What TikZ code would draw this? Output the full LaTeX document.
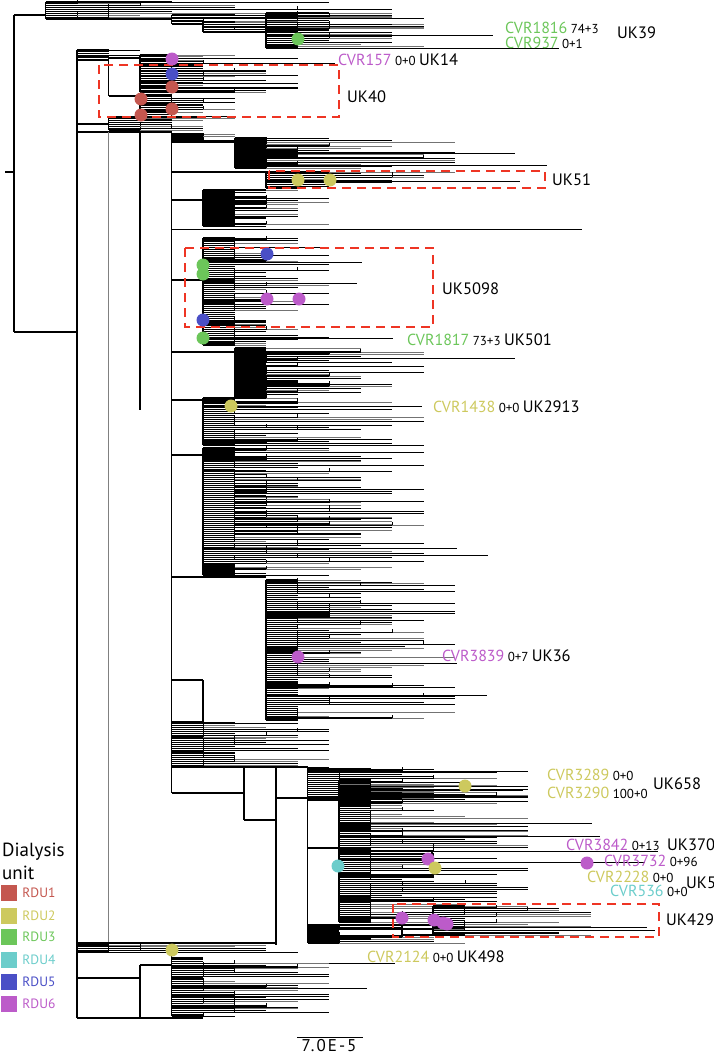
\documentclass[tikz,border=0pt]{standalone}
\usepackage{fontspec}
\setmainfont{PT Sans}
\usetikzlibrary{positioning}

\definecolor{rduone}{HTML}{C4574F}
\definecolor{rdutwo}{HTML}{CDC95E}
\definecolor{rduthree}{HTML}{6CC65A}
\definecolor{rdufour}{HTML}{6CCDCB}
\definecolor{rdufive}{HTML}{4A4FC6}
\definecolor{rdusix}{HTML}{BC5BC9}
\definecolor{boxred}{HTML}{EE3524}

% #1 x of node, #2 top y, #3 bottom y, #4 gaps, #5 min steps, #6 max steps, #7 seed
\newcommand\tipset[7]{%
  \pgfmathsetseed{#7}
  \draw[branch] (#1,#2) -- (#1,#3);
  \foreach \k in {0,...,#4}{
    \pgfmathsetmacro\yy{#2+(#3-#2)*\k/#4}
    \pgfmathtruncatemacro\mm{#5+floor(rnd*(#6-#5+1))}
    \pgfmathtruncatemacro\jj{1+floor(rnd*rnd*\mm)}
    \pgfmathtruncatemacro\gg{rnd<0.4 ? 55 : 100}
    \pgfmathsetmacro\xe{#1+31.5*\mm}
    \pgfmathsetmacro\xj{#1+31.5*\jj}
    \draw[tip, line width=1.2pt] (#1,\yy) -- (\xj,\yy);
    \draw[tip, black!\gg] (\xj,\yy) -- (\xe,\yy);
    \ifnum\jj<\mm \ifnum\k>0
      \draw[tip] (\xj,\yy) -- ++(0,-3.5);
    \fi\fi
  }%
}

\begin{document}
\begin{tikzpicture}[x=1pt, y=-1pt,
    branch/.style = {line width=1.2pt},
       tip/.style = {line width=0.8pt},
   leafdot/.style = {circle, inner sep=0pt, minimum size=13pt, fill=#1},
   cluster/.style = {draw=boxred, line width=2.2pt, dash pattern=on 9pt off 6pt},
       cvr/.style = {anchor=west, inner sep=0pt, text=#1, font=\fontsize{16}{18}\selectfont},
       snp/.style = {inner sep=0pt, font=\fontsize{13}{15}\selectfont},
        uk/.style = {anchor=west, inner sep=0pt, font=\fontsize{16.5}{18}\selectfont},
       key/.style = {minimum size=16pt, inner sep=0pt, fill=#1},
                    ]
\useasboundingbox (0,0) rectangle (714,1055);

% root and top clade
\draw[branch] (5,172) -- (14,172);
\draw[branch] (14,15) -- (14,332);
\draw[branch] (14,15) -- (45.5,15);
\tipset{45.5}{2}{19}{9}{3}{12}{11}
\draw[branch] (45.5,19) -- (171.5,19);
\tipset{171.5}{15}{24}{3}{4}{8}{12}
\draw[branch] (171.5,24) -- (203,24);
\tipset{203}{22}{32}{4}{3}{7}{13}
\draw[branch] (203,32) -- (266,32);
\tipset{266}{13}{48}{18}{2}{5}{14}
\draw[tip] (266,35) -- (493,35);
\draw[tip] (266,48) -- (559,48);

% main clade, UK14 and UK40
\draw[branch] (14,332) -- (77,332);
\draw[branch] (77,50) -- (77,1018);
\tipset{77}{50}{57}{4}{1}{2}{21}
\draw[branch] (77,60) -- (108.5,60);
\draw[branch] (108.5,58) -- (108.5,96);
\draw[branch] (108.5,58) -- (140,58);
\tipset{140}{55}{92}{22}{2}{5}{22}
\draw[tip] (140,63) -- (335,63);
\draw[branch] (108.5,96) -- (140,96);
\tipset{140}{95}{120}{14}{1}{3}{23}
\draw[branch] (77,124) -- (108.5,124);
\tipset{108.5}{117}{130}{7}{2}{3}{24}

% big clade
\draw[branch] (77,132) -- (171.5,132);
\draw[line width=1.5pt, black!50] (108.5,132) -- (108.5,943);
\draw[branch] (140,132) -- (140,410);
\draw[branch] (171.5,132) -- (171.5,793);
% UK51
\tipset{171.5}{134}{140}{3}{1}{3}{31}
\draw[branch] (171.5,142) -- (234.5,142);
\tipset{234.5}{138}{168}{15}{2}{7}{32}
\draw[tip] (234.5,153) -- (515,153);
\draw[tip] (234.5,165) -- (547,165);
\draw[branch] (171.5,172) -- (266,172);
\tipset{266}{172}{188}{9}{1}{6}{33}
\draw[tip] (266,181) -- (520,181);
\draw[branch] (171.5,200) -- (203,200);
\tipset{203}{190}{226}{18}{1}{4}{34}
\draw[tip] (171.5,229) -- (582,229);
% UK5098
\draw[branch] (171.5,280) -- (203,280);
\tipset{203}{238}{345}{56}{1}{4}{41}
\draw[tip] (203,262) -- (362,262);
\draw[tip] (203,283) -- (357,283);
\draw[tip] (203,338) -- (393,338);
% UK2913
\draw[branch] (171.5,352) -- (234.5,352);
\tipset{234.5}{348}{398}{25}{1}{6}{51}
\draw[tip] (234.5,358) -- (515,358);
\draw[branch] (171.5,400) -- (203,400);
\tipset{203}{398}{445}{24}{1}{7}{52}
\draw[tip] (203,406) -- (422,406);
% middle
\draw[branch] (171.5,455) -- (203,455);
\tipset{203}{448}{575}{64}{1}{7}{61}
\draw[branch] (203,470) -- (234.5,470);
\tipset{234.5}{471}{534}{20}{1}{5}{62}
\draw[tip] (203,555) -- (488,555);
\draw[tip] (203,548) -- (457,548);
% UK36
\draw[branch] (171.5,577) -- (266,577);
\tipset{266}{580}{720}{72}{1}{6}{71}
\draw[tip] (266,695) -- (487,695);
\draw[tip] (266,663) -- (457,663);
\draw[tip] (266,646) -- (405,646);
\draw[branch] (171.5,680) -- (203,680);
\draw[branch] (203,680) -- (203,722);
\tipset{171.5}{722}{767}{24}{2}{5}{72}

% lower clade: UK658, UK370, UK5, UK429
\draw[branch] (171.5,767) -- (307.5,767);
\draw[branch] (171.5,793) -- (244,793);
\draw[branch] (244,767) -- (244,820);
\draw[branch] (244,820) -- (276,820);
\draw[branch] (276,767) -- (276,945);
\draw[branch] (276,798) -- (307.5,798);
\draw[branch] (307.5,767) -- (307.5,943);
\tipset{307.5}{769}{800}{16}{2}{7}{81}
\draw[tip] (307.5,786) -- (528,786);
\draw[tip] (307.5,790) -- (523,790);
\draw[branch] (307.5,848) -- (339,848);
\tipset{339}{780}{922}{74}{1}{6}{82}
\draw[tip] (339,823) -- (592,823);
\draw[tip] (339,836) -- (600,836);
\draw[branch] (339,859) -- (432,859);
\draw[branch] (432,851) -- (432,866);
\draw[tip] (432,851) -- (658,851);
\draw[tip] (432,862) -- (645,862);
\tipset{307.5}{925}{943}{9}{1}{5}{83}
\draw[branch] (339,918) -- (402,918);
\draw[branch] (402,912) -- (402,935);
\draw[branch] (402,935) -- (433,935);
\tipset{433}{906}{935}{14}{1}{6}{84}
\draw[tip] (433,930) -- (655,930);
\draw[tip] (433,927) -- (647,927);
\draw[tip] (402,912) -- (560,912);

% UK498 clade
\draw[branch] (77,943) -- (276,943);
\tipset{77}{945}{952}{4}{5}{7}{91}
\draw[branch] (171.5,950) -- (171.5,965);
\draw[tip] (171.5,963) -- (395,963);
\draw[branch] (77,978) -- (140,978);
\draw[branch] (140,965) -- (140,1018);
\draw[branch] (140,965) -- (171.5,965);
\tipset{171.5}{958}{1016}{32}{1}{5}{92}
\draw[tip] (171.5,988) -- (367,988);
\draw[branch] (77,1018) -- (203,1018);

% clusters
\draw[cluster] (99,65) rectangle (339,117);
\draw[cluster] (269,171) rectangle (545,188);
\draw[cluster] (185,248) rectangle (433,327);
\draw[cluster] (393,904) rectangle (659,937);

% sampled patients
\node[leafdot=rduthree] (d39) at (298,39) {};
\node[leafdot=rdusix] (d14) at (172,59) {};
\node[leafdot=rdufive] (d40a) at (172,74) {};
\node[leafdot=rduone] (d40b) at (172,87) {};
\node[leafdot=rduone] (d40c) at (141,99) {};
\node[leafdot=rduone] (d40d) at (172,109) {};
\node[leafdot=rduone] (d40e) at (141,115) {};
\node[leafdot=rdutwo] (d51a) at (298,180) {};
\node[leafdot=rdutwo] (d51b) at (330,180) {};
\node[leafdot=rdufive] (d5098a) at (267,254) {};
\node[leafdot=rduthree] (d5098b) at (203,265) {};
\node[leafdot=rduthree] (d5098c) at (203,274) {};
\node[leafdot=rdusix] (d5098d) at (267,299) {};
\node[leafdot=rdusix] (d5098e) at (299,299) {};
\node[leafdot=rdufive] (d5098f) at (203,320) {};
\node[leafdot=rduthree] (d501) at (203,338) {};
\node[leafdot=rdutwo] (d2913) at (231,406) {};
\node[leafdot=rdusix] (d36) at (298,657) {};
\node[leafdot=rdutwo] (d658) at (465,786) {};
\node[leafdot=rdusix] (d370) at (428,859) {};
\node[leafdot=rdutwo] (d5) at (435,868) {};
\node[leafdot=rdusix] (d3732) at (587,863) {};
\node[leafdot=rdufour] (d536) at (338,866) {};
\node[leafdot=rdusix] (d429a) at (402,918) {};
\node[leafdot=rdusix] (d429b) at (434,920) {};
\node[leafdot=rdusix] (d429c) at (443,923) {};
\node[leafdot=rdusix] (d429d) at (447,924) {};
\node[leafdot=rdutwo] (d498) at (172,950) {};

% labels
\node[cvr=rduthree] (cvr1816) at (505,28) {CVR1816};
\node[snp, base right=3pt of cvr1816] (s1816) {74+3};
\node[cvr=rduthree] (cvr937) at (505,43) {CVR937};
\node[snp, base right=3pt of cvr937] (s937) {0+1};
\node[uk] (uk39) at (617,33) {UK39};
\node[cvr=rdusix] (cvr157) at (338,60) {CVR157};
\node[snp, base right=3pt of cvr157] (s157) {0+0};
\node[uk, base right=3pt of s157] (uk14) {UK14};
\node[uk] (uk40) at (347,97) {UK40};
\node[uk] (uk51) at (552,180) {UK51};
\node[uk] (uk5098) at (442,289) {UK5098};
\node[cvr=rduthree] (cvr1817) at (407,340) {CVR1817};
\node[snp, base right=3pt of cvr1817] (s1817) {73+3};
\node[uk, base right=3pt of s1817] (uk501) {UK501};
\node[cvr=rdutwo] (cvr1438) at (433,407) {CVR1438};
\node[snp, base right=3pt of cvr1438] (s1438) {0+0};
\node[uk, base right=3pt of s1438] (uk2913) {UK2913};
\node[cvr=rdusix] (cvr3839) at (442,656) {CVR3839};
\node[snp, base right=3pt of cvr3839] (s3839) {0+7};
\node[uk, base right=3pt of s3839] (uk36) {UK36};
\node[cvr=rdutwo] (cvr3289) at (547,775) {CVR3289};
\node[snp, base right=3pt of cvr3289] (s3289) {0+0};
\node[cvr=rdutwo] (cvr3290) at (547,793) {CVR3290};
\node[snp, base right=3pt of cvr3290] (s3290) {100+0};
\node[uk] (uk658) at (653,784) {UK658};
\node[cvr=rdusix] (cvr3842) at (566,845) {CVR3842};
\node[snp, base right=3pt of cvr3842] (s3842) {0+13};
\node[uk] (uk370) at (667,845) {UK370};
\node[cvr=rdusix] (cvr3732) at (604,861) {CVR3732};
\node[snp, base right=3pt of cvr3732] (s3732) {0+96};
\node[cvr=rdutwo] (cvr2228) at (587,877) {CVR2228};
\node[snp, base right=3pt of cvr2228] (s2228) {0+0};
\node[uk] (uk5) at (686,883) {UK5};
\node[cvr=rdufour] (cvr536) at (610,891) {CVR536};
\node[snp, base right=3pt of cvr536] (s536) {0+0};
\node[uk] (uk429) at (666,920) {UK429};
\node[cvr=rdutwo] (cvr2124) at (367,957) {CVR2124};
\node[snp, base right=3pt of cvr2124] (s2124) {0+0};
\node[uk, base right=3pt of s2124] (uk498) {UK498};

% legend
\node[anchor=west, inner sep=0pt, font=\fontsize{19}{21}\selectfont] (keytitle) at (2,852) {Dialysis};
\node[anchor=west, inner sep=0pt, font=\fontsize{19}{21}\selectfont] (keyunit) at (2,873) {unit};
\foreach \i/\c/\yk in {1/rduone/893, 2/rdutwo/916, 3/rduthree/937,
                       4/rdufour/960, 5/rdufive/982, 6/rdusix/1004}{
  \node[key=\c] (key\i) at (9,\yk) {};
  \node[inner sep=0pt, text=\c, font=\fontsize{13.5}{15}\selectfont,
        right=5pt of key\i] (keylab\i) {RDU\i};
}

% scale bar
\coordinate (sbl) at (297,1037);
\coordinate (sbr) at (363,1037);
\draw[line width=1pt] (sbl) -- (sbr);
\node[inner sep=0pt, font=\fontsize{17}{19}\selectfont\addfontfeature{LetterSpace=12}] (sblabel) at (329,1046) {7.0E-5};
\end{tikzpicture}
\end{document}
